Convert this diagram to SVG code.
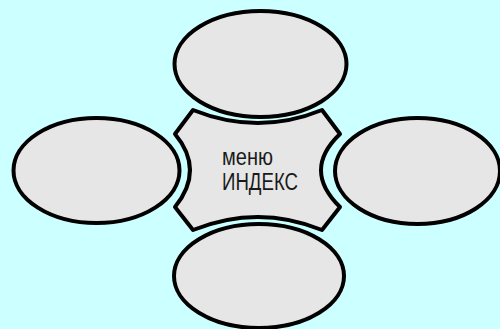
<svg xmlns="http://www.w3.org/2000/svg" width="500" height="329" viewBox="0 0 500 329">
  <style>
    .shape { fill: #e6e6e6; stroke: #000; stroke-width: 4; stroke-linejoin: round; }
    .label { font-family: "Liberation Sans", Arial, sans-serif; font-size: 23px; fill: #1a1a1a; }
  </style>
  <rect width="500" height="329" fill="#ccffff"/>

  <g id="node-top">
    <ellipse class="shape" cx="260.5" cy="64" rx="86" ry="53"/>
  </g>
  <g id="node-left">
    <ellipse class="shape" cx="96.5" cy="170.5" rx="83" ry="52.5"/>
  </g>
  <g id="node-right">
    <ellipse class="shape" cx="417.5" cy="171" rx="82.5" ry="53"/>
  </g>
  <g id="node-bottom">
    <ellipse class="shape" cx="259" cy="276" rx="85" ry="52"/>
  </g>

  <g id="node-center">
    <path class="shape" d="M193,110 Q258,136 322,110 L340,134 Q302,170 340,207 L322,230 Q258,204 193,230 L175,207 Q205,170 175,134 Z"/>
    <text class="label" x="222" y="165" textLength="51" lengthAdjust="spacingAndGlyphs">меню</text>
    <text class="label" x="222" y="190" textLength="76" lengthAdjust="spacingAndGlyphs">ИНДЕКС</text>
  </g>

  <g id="connectors"/>
</svg>
